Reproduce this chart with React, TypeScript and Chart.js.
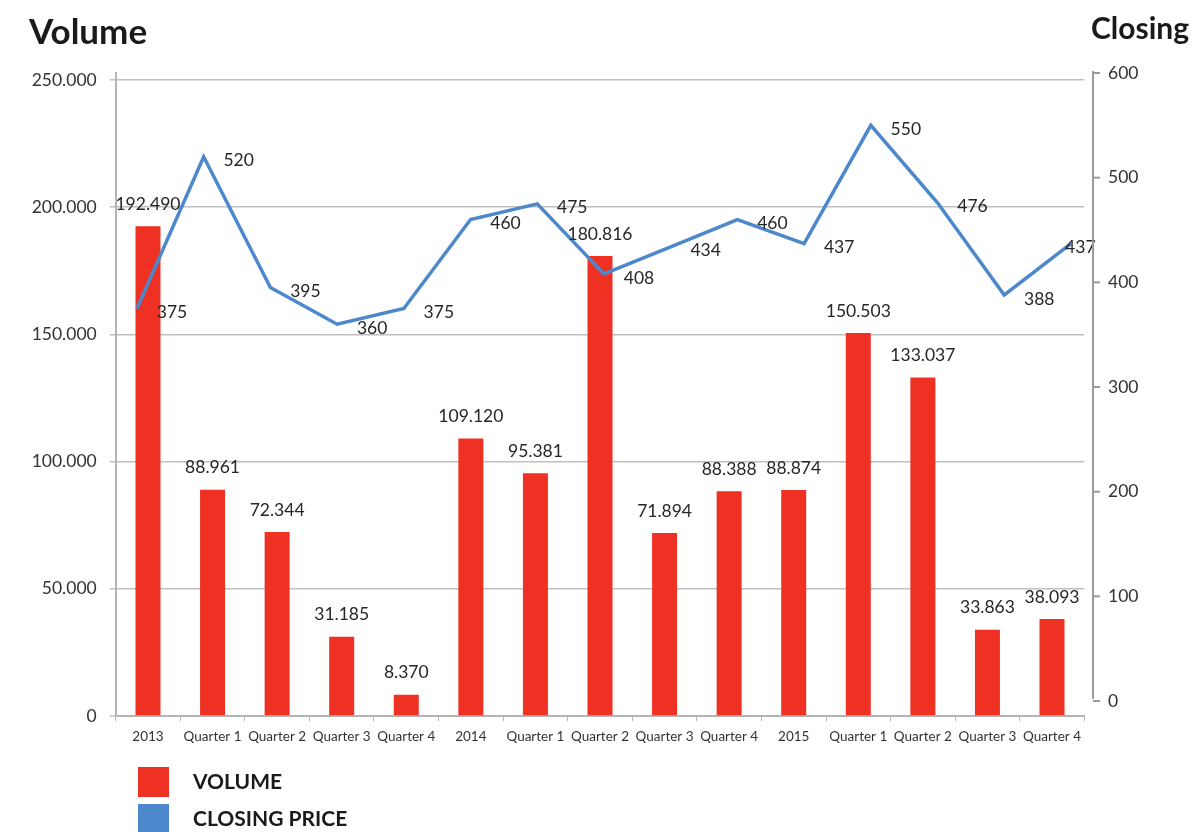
import React, { useEffect, useRef } from "react";
import { Chart, registerables } from "chart.js";

Chart.register(...registerables);

const categories = [
  "2013", "Quarter 1", "Quarter 2", "Quarter 3", "Quarter 4",
  "2014", "Quarter 1", "Quarter 2", "Quarter 3", "Quarter 4",
  "2015", "Quarter 1", "Quarter 2", "Quarter 3", "Quarter 4",
];
const volume = [
  192490, 88961, 72344, 31185, 8370,
  109120, 95381, 180816, 71894, 88388,
  88874, 150503, 133037, 33863, 38093,
];
const closingPrice = [
  375, 520, 395, 360, 375,
  460, 475, 408, 434, 460,
  437, 550, 476, 388, 437,
];
const volumeTicks = [0, 50000, 100000, 150000, 200000, 250000];
const priceTicks = [0, 100, 200, 300, 400, 500, 600];
const volumeLabel = "VOLUME";
const priceLabel = "CLOSING PRICE";
const leftTitle = "Volume";
const rightTitle = "Closing";

const RED = "#EE3123";
const BLUE = "#4C88CB";
const FONT = "Lato, 'Open Sans', sans-serif";

const fmt = (n: number) =>
  String(Math.round(n)).replace(/\B(?=(\d{3})+(?!\d))/g, ".");

const overlayPlugin = {
  id: "overlay",
  afterDatasetsDraw(chart: any) {
    const ctx = chart.ctx;
    const area = chart.chartArea;
    ctx.save();
    ctx.fillStyle = "#262626";
    ctx.font = `17.5px ${FONT}`;
    ctx.textAlign = "center";
    ctx.textBaseline = "middle";
    const barMeta = chart.getDatasetMeta(0);
    barMeta.data.forEach((el: any, i: number) => {
      ctx.fillText(fmt(volume[i]), el.x, el.y - 22);
    });
    const lineMeta = chart.getDatasetMeta(1);
    lineMeta.data.forEach((el: any, i: number) => {
      const lx = Math.min(el.x + 35, area.right - 4);
      ctx.fillText(String(closingPrice[i]), lx, el.y + 4);
    });

    // right axis
    const y1 = chart.scales.y1;
    const axX = 1093;
    ctx.strokeStyle = "#9a9a9a";
    ctx.lineWidth = 2;
    ctx.beginPath();
    ctx.moveTo(axX, y1.getPixelForValue(600) - 2);
    ctx.lineTo(axX, y1.getPixelForValue(0) - 2);
    ctx.stroke();
    ctx.font = `17.5px ${FONT}`;
    ctx.textAlign = "left";
    ctx.fillStyle = "#333";
    priceTicks.forEach((v) => {
      const py = y1.getPixelForValue(v);
      ctx.beginPath();
      ctx.moveTo(axX, py);
      ctx.lineTo(axX + 7, py);
      ctx.stroke();
      ctx.fillText(String(v), axX + 15, py);
    });

    // titles
    ctx.fillStyle = "#1a1a1a";
    ctx.textBaseline = "alphabetic";
    ctx.textAlign = "left";
    ctx.font = `bold 35px ${FONT}`;
    ctx.fillText(leftTitle, 29, 44);
    ctx.font = `bold 30px ${FONT}`;
    ctx.fillText(rightTitle, 1091, 39);

    // legend
    const items = [
      { label: volumeLabel, color: RED, y: 767 },
      { label: priceLabel, color: BLUE, y: 804 },
    ];
    ctx.font = `bold 21px ${FONT}`;
    ctx.textBaseline = "middle";
    items.forEach((it) => {
      ctx.fillStyle = it.color;
      ctx.fillRect(138, it.y, 31, 30);
      ctx.fillStyle = "#1a1a1a";
      ctx.fillText(it.label, 193, it.y + 15);
    });
    ctx.restore();
  },
};

export default function App() {
  const ref = useRef<HTMLCanvasElement | null>(null);
  useEffect(() => {
    document.body.style.margin = "0";
    if (!ref.current) return;
    Chart.defaults.font.family = FONT;
    Chart.defaults.color = "#333";
    const chart = new Chart(ref.current, {
      type: "bar",
      data: {
        labels: categories,
        datasets: [
          {
            type: "bar",
            label: volumeLabel,
            data: volume,
            backgroundColor: RED,
            xAxisID: "x",
            yAxisID: "y",
            barPercentage: 0.387,
            categoryPercentage: 1,
            grouped: false,
            order: 2,
          },
          {
            type: "line",
            label: priceLabel,
            data: closingPrice.map((v, i) => ({ x: i, y: v })),
            borderColor: BLUE,
            borderWidth: 3.5,
            pointRadius: 0,
            tension: 0,
            xAxisID: "x2",
            yAxisID: "y1",
            order: 1,
          } as any,
        ],
      },
      options: {
        animation: false,
        responsive: false,
        layout: { padding: { top: 73, right: 109.7, left: 0, bottom: 0 } },
        plugins: { legend: { display: false }, tooltip: { enabled: false } },
        scales: {
          x: {
            type: "category",
            position: "bottom",
            offset: true,
            afterFit: (s: any) => { s.height = 116; },
            grid: {
              drawOnChartArea: false,
              drawTicks: true,
              tickLength: 5,
              color: "#b4b4b4",
              offset: true,
            },
            border: { color: "#b4b4b4", width: 2 },
            ticks: {
              font: { size: 13.5 },
              color: "#333",
              padding: 8,
              maxRotation: 0,
              autoSkip: false,
            },
          },
          x2: {
            type: "linear",
            position: "bottom",
            display: false,
            offset: false,
            bounds: "data",
            grace: 0,
            min: -0.319,
            max: 14.2,
          },
          y: {
            type: "linear",
            position: "left",
            min: 0,
            max: 252752,
            afterFit: (s: any) => { s.width = 115.7; },
            afterBuildTicks: (s: any) => {
              s.ticks = volumeTicks.map((v) => ({ value: v }));
            },
            grid: { color: "#c0c0c0", lineWidth: 1.5, tickLength: 6 },
            border: { color: "#b4b4b4", width: 2 },
            ticks: {
              font: { size: 17.5 },
              color: "#333",
              padding: 13,
              callback: (v: any) => fmt(Number(v)),
            },
          },
          y1: {
            type: "linear",
            position: "right",
            display: false,
            min: -14.3,
            max: 600,
          },
        },
      },
      plugins: [overlayPlugin],
    });
    return () => chart.destroy();
  }, []);
  return (
    <div style={{ width: 1194, height: 832, overflow: "hidden" }}>
      <canvas ref={ref} width={1194} height={832} style={{ display: "block" }} />
    </div>
  );
}
